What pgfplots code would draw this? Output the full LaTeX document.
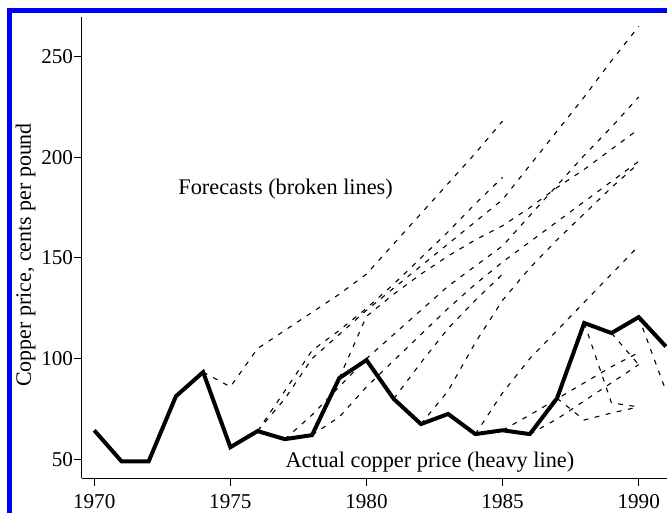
\documentclass[border=0pt]{standalone}
\usepackage{pgfplots}
\pgfplotsset{compat=1.18}
\usepackage{fontspec}
\setmainfont{Liberation Serif}
\definecolor{frameblue}{RGB}{0,0,245}
\begin{document}
\begin{tikzpicture}
\begin{axis}[
  scale only axis, width=292.5bp, height=230.5bp,
  xmin=1969.55, xmax=1991.04, ymin=40.7, ymax=269.7,
  axis x line=bottom, axis y line=left,
  axis line style={-, line width=0.5bp, black},
  tick align=outside, major tick length=4bp,
  tick style={line width=0.5bp, black},
  xtick={1970,1975,1980,1985,1990}, ytick={50,100,150,200,250},
  minor tick num=0,
  /pgf/number format/assume math mode=true,
  /pgf/number format/1000 sep={},
  ticklabel style={font=\fontsize{10.6}{12}\selectfont},
  yticklabel style={xshift=3bp},
  xticklabel style={yshift=-0.5bp},
  ylabel={Copper price, cents per pound},
  every axis y label/.style={at={(axis description cs:-0.0966,0.484)}, rotate=90, anchor=center, font=\fontsize{11}{13}\selectfont},
  clip=false,
  forecast/.style={black, line width=0.55bp, dash pattern=on 2.4bp off 3.3bp},
]
% forecasts
\addplot[forecast] coordinates {(1974,93.3)(1975,86)(1976,105)(1977,114)(1978,123)(1979,132)(1980,142)(1981,157)(1982,172)(1983,187)(1984,202)(1985,218)};
\addplot[forecast] coordinates {(1976,64)(1977,84)(1978,104)(1979,114)(1980,125)(1981,137)(1982,150)(1983,163)(1984,177)(1985,190)};
\addplot[forecast] coordinates {(1976,64)(1977,80)(1978,100)(1979,112)(1980,124)(1981,135)(1982,146)(1983,157)(1984,168)(1985,179)(1986,196)(1987,213)(1988,230)(1989,248)(1990,265)};
\addplot[forecast] coordinates {(1979,90.3)(1980,121)(1981,132)(1982,142)(1983,151)(1984,159)(1985,166)(1986,175)(1987,185)(1988,194)(1989,204)(1990,214)};
\addplot[forecast] coordinates {(1977,60)(1978,72)(1979,86)(1980,100)(1981,112)(1982,124)(1983,136)(1984,146)(1985,156)(1986,171)(1987,186)(1988,201)(1989,215)(1990,230)};
\addplot[forecast] coordinates {(1978,62)(1979,71)(1980,86)(1981,99)(1982,112)(1983,125)(1984,137)(1985,148)(1986,158)(1987,168)(1988,178)(1989,188)(1990,198)};
\addplot[forecast] coordinates {(1981,80)(1982,98)(1983,115)(1984,129)(1985,142)};
\addplot[forecast] coordinates {(1982,67.5)(1983,84)(1984,108)(1985,129)(1986,145)(1987,159)(1988,172)(1989,185)(1990,197)};
\addplot[forecast] coordinates {(1984,62.5)(1985,83)(1986,100)(1987,114)(1988,128)(1989,142)(1990,156)};
\addplot[forecast] coordinates {(1985,64.4)(1986,72)(1987,80)(1988,88)(1989,96)(1990,103)};
\addplot[forecast] coordinates {(1986,62.5)(1987,70)(1988,79)(1989,88)(1990,97)};
\addplot[forecast] coordinates {(1987,80.3)(1988,69.5)(1989,73)(1990,76)};
\addplot[forecast] coordinates {(1988,117.7)(1989,78)(1990,76)};
\addplot[forecast] coordinates {(1989,112.7)(1990,97)};
\addplot[forecast] coordinates {(1990,120.6)(1991,84)};
% actual
\addplot[black, line width=2bp] coordinates {(1970,64.4)(1971,49)(1972,49)(1973,81.3)(1974,93.3)(1975,56)(1976,64)(1977,60)(1978,62)(1979,90.3)(1980,99.3)(1981,80)(1982,67.5)(1983,72.5)(1984,62.5)(1985,64.4)(1986,62.5)(1987,80.3)(1988,117.7)(1989,112.7)(1990,120.6)(1991,106)};
\node[font=\fontsize{11.2}{13}\selectfont] at (axis cs:1977.03,184.0) {Forecasts (broken lines)};
\node[font=\fontsize{11.2}{13}\selectfont] at (axis cs:1982.33,48.7) {Actual copper price (heavy line)};
\coordinate (BL) at (rel axis cs:0,0);
\coordinate (TL) at (rel axis cs:0,1);
\coordinate (TR) at (rel axis cs:1,1);
\end{axis}
\pgfresetboundingbox
\path[use as bounding box] ([shift={(-41bp,-17.5bp)}]BL) rectangle ([shift={(0bp,8.5bp)}]TR);
\draw[frameblue, line width=2.5bp] ([shift={(-36.25bp,-17.5bp)}]BL) -- ([shift={(-36.25bp,3.25bp)}]TL) -- ([shift={(0bp,3.25bp)}]TR);
\end{tikzpicture}
\end{document}
